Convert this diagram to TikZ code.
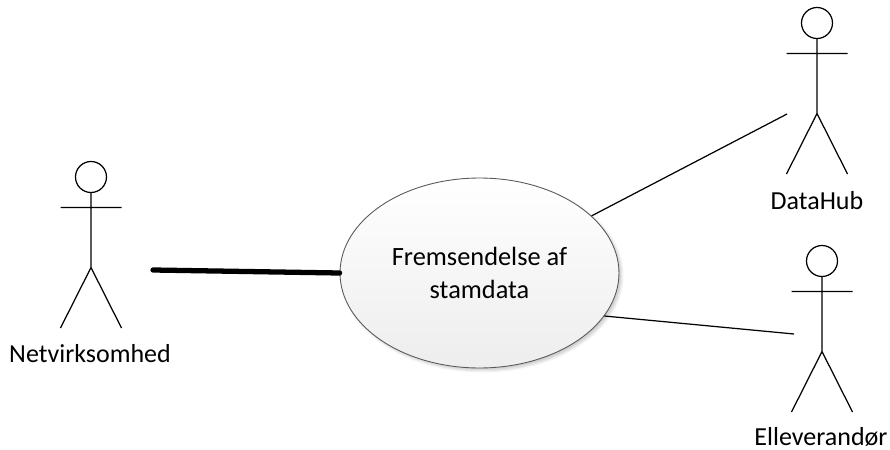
\documentclass[tikz,border=0pt]{standalone}
\usepackage{fontspec}
\setmainfont{Carlito}
\usetikzlibrary{shapes.geometric,shadows.blur}

\tikzset{
  usecase/.style={ellipse,draw=black!65,line width=0.5pt,top color=white,bottom color=black!7,
    minimum width=5.58cm,minimum height=3.8cm,inner sep=0pt,align=center,
    blur shadow={shadow xshift=1.5pt,shadow yshift=-1.5pt,shadow blur radius=1.5pt,shadow opacity=20}},
  assoc/.style={draw,line width=0.7pt},
  strong/.style={draw,line width=3pt,line cap=round},
  actorname/.style={inner sep=0pt,font=\fontsize{14.8}{18}\selectfont},
  actor/.pic={
    \draw[line width=0.7pt] (0,0) circle (15.5);
    \draw[line width=0.7pt] (0,15.5) -- (0,90.5) (-30.5,30.5) -- (30.5,30.5)
      (-30.5,151) -- (0,90.5) -- (30.5,151);
  }
}

\begin{document}
\begin{tikzpicture}[x=0.02cm,y=-0.02cm]
  \useasboundingbox (0,0) rectangle (890,450);

  \pic at (91,177) {actor};
  \pic at (817,23) {actor};
  \pic at (822,261) {actor};

  \begin{scope}[every node/.style={actorname}]
    \node (netvirksomhed) at (90,354) {Netvirksomhed};
    \node (datahub)       at (817,201) {DataHub};
    \node (elleverandor)  at (821,437) {Elleverandør};
  \end{scope}

  \node[usecase,font=\fontsize{15}{19}\selectfont] (fremsendelse) at (479.5,273) {Fremsendelse af\\stamdata};

  \coordinate (netend)  at (153,270);
  \coordinate (dataend) at (787,114);
  \coordinate (elend)   at (794,334);

  \path[strong] (netend) -- (fremsendelse.180);
  \path[assoc]  (fremsendelse.27.6) -- (dataend);
  \path[assoc]  (fremsendelse.-19.6) -- (elend);

\end{tikzpicture}
\end{document}
